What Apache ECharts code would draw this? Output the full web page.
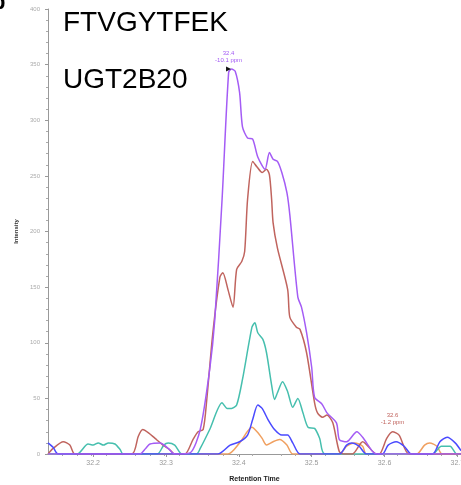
<!DOCTYPE html>
<html>
<head>
<meta charset="utf-8">
<script src="https://cdn.jsdelivr.net/npm/echarts@6/dist/echarts.min.js"></script>
<style>
  html, body { margin: 0; padding: 0; background: #fff; }
  #chart { width: 461px; height: 485px; }
</style>
</head>
<body>
<div id="chart"></div>
<script>
// chromatogram traces, [retention time, intensity]
const purple = [[32.138,0],[32.264,0],[32.272,5],[32.278,9],[32.292,10],[32.303,5],[32.312,0],[32.333,1],
  [32.347,22],[32.360,76],[32.367,121],[32.377,229],[32.386,343],[32.390,346],[32.395,344],[32.401,325],
  [32.405,294],[32.412,284],[32.419,283],[32.426,267],[32.436,256],[32.442,271],[32.447,265],[32.453,263],
  [32.459,253],[32.466,235],[32.470,215],[32.481,141],[32.486,132],[32.493,109],[32.500,78],[32.504,51],
  [32.514,45],[32.521,37],[32.534,28],[32.538,13],[32.548,11],[32.562,20],[32.570,15],[32.584,2],[32.590,0],[32.705,0]];
const brown = [[32.138,0],[32.145,5],[32.159,11],[32.168,8],[32.175,0],[32.253,0],[32.262,16],[32.268,22],
  [32.276,19],[32.285,14],[32.296,8],[32.305,4],[32.312,0],[32.326,0],[32.337,13],[32.344,20],[32.351,22],
  [32.356,49],[32.364,107],[32.374,159],[32.378,163],[32.385,148],[32.392,132],[32.397,166],[32.404,173],
  [32.408,182],[32.412,229],[32.419,263],[32.425,258],[32.432,253],[32.438,256],[32.442,251],[32.445,229],
  [32.447,208],[32.453,185],[32.467,148],[32.470,123],[32.479,114],[32.484,112],[32.493,91],[32.504,46],
  [32.508,37],[32.515,33],[32.521,35],[32.529,28],[32.538,2],[32.545,0],[32.556,0],[32.570,11],[32.589,0],
  [32.593,0],[32.603,14],[32.611,20],[32.620,17],[32.634,0],[32.705,0]];
const teal = [[32.138,0],[32.178,0],[32.193,9],[32.200,8],[32.207,10],[32.214,8],[32.221,10],[32.230,9],
  [32.237,4],[32.241,0],[32.288,0],[32.297,8],[32.303,10],[32.312,8],[32.322,0],[32.342,0],[32.347,5],
  [32.360,22],[32.377,46],[32.384,41],[32.390,41],[32.397,44],[32.405,67],[32.418,114],[32.422,118],
  [32.426,109],[32.433,103],[32.438,91],[32.445,62],[32.449,49],[32.453,55],[32.460,65],[32.467,56],
  [32.474,42],[32.481,50],[32.488,37],[32.495,24],[32.504,23],[32.511,14],[32.518,0],[32.666,0],
  [32.678,7],[32.690,7],[32.699,0],[32.705,0]];
const blue = [[32.138,10],[32.145,6],[32.152,0],[32.371,0],[32.388,8],[32.401,11],[32.412,17],[32.419,31],
  [32.426,44],[32.432,41],[32.440,31],[32.449,22],[32.459,17],[32.467,17],[32.474,10],[32.484,0],
  [32.538,0],[32.548,8],[32.555,10],[32.565,7],[32.575,0],[32.597,0],[32.605,8],[32.616,11],[32.627,7],
  [32.637,0],[32.666,0],[32.676,11],[32.686,15],[32.697,10],[32.705,3]];
const orange = [[32.138,0],[32.385,0],[32.401,10],[32.418,24],[32.425,20],[32.432,14],[32.438,8],
  [32.447,11],[32.456,13],[32.466,8],[32.474,0],[32.538,0],[32.548,7],[32.559,10],[32.570,7],[32.575,0],
  [32.644,0],[32.655,8],[32.662,10],[32.672,7],[32.679,0],[32.705,0]];

const xTicks = [32.2, 32.3, 32.4, 32.5, 32.6, 32.7];
const peakMain = [32.390, 346];
const peakSecond = [32.611, 20];

const chart = echarts.init(document.getElementById('chart'));

function line(data, color, extra) {
  return Object.assign({
    type: 'line',
    data: data,
    showSymbol: false,
    smooth: 0.25,
    lineStyle: { color: color, width: 1.5 },
    itemStyle: { color: color },
    animation: false
  }, extra || {});
}

chart.setOption({
  animation: false,
  grid: { left: 48, right: 0, top: 9, bottom: 31, outerBoundsMode: 'none', containLabel: false },
  graphic: [
    // panel letter, mostly cut off by the crop
    { type: 'text', x: -8, y: -8, style: { text: 'b', font: 'bold 22px "Liberation Sans"', fill: '#000' } },
    { type: 'text', x: 63, y: 9, style: { text: 'FTVGYTFEK', font: '28px "Liberation Sans"', fill: '#000' } },
    { type: 'text', x: 63, y: 66, style: { text: 'UGT2B20', font: '28px "Liberation Sans"', fill: '#000' } }
  ],
  xAxis: {
    type: 'value',
    min: 32.138,
    max: 32.705,
    interval: 0.1,
    name: 'Retention Time',
    nameLocation: 'middle',
    nameGap: 22,
    nameTextStyle: { fontSize: 7, fontWeight: 'bold', color: '#222', fontFamily: 'Liberation Sans' },
    axisLine: { onZero: false, lineStyle: { color: '#999' } },
    axisTick: { length: 3, lineStyle: { color: '#999' }, customValues: xTicks },
    minorTick: { show: true, splitNumber: 5, length: 2, lineStyle: { color: '#aaa' } },
    axisLabel: {
      fontSize: 7, color: '#999', margin: 6, fontFamily: 'Liberation Sans',
      customValues: xTicks,
      formatter: v => v.toFixed(1)
    },
    splitLine: { show: false }
  },
  yAxis: {
    type: 'value',
    min: 0,
    max: 400,
    interval: 50,
    name: 'Intensity',
    nameLocation: 'middle',
    nameGap: 29,
    nameTextStyle: { fontSize: 6, fontWeight: 'bold', color: '#333', fontFamily: 'Liberation Sans' },
    axisLine: { show: true, lineStyle: { color: '#999' } },
    axisTick: { show: true, length: 3, lineStyle: { color: '#999' } },
    minorTick: { show: true, splitNumber: 5, length: 2, lineStyle: { color: '#aaa' } },
    axisLabel: { fontSize: 6, color: '#aaa', margin: 8, fontFamily: 'Liberation Sans' },
    splitLine: { show: false }
  },
  series: [
    line(orange, '#f0a060'),
    line(teal, '#46bfae'),
    line(brown, '#c0645e', {
      markPoint: {
        symbol: 'circle', symbolSize: 0,
        data: [{ coord: peakSecond }],
        label: {
          show: true, position: 'top', distance: 6, formatter: '32.6\n-1.2 ppm',
          fontSize: 6, lineHeight: 7, color: '#c0645e', fontFamily: 'Liberation Sans'
        }
      }
    }),
    line(blue, '#4a4aff'),
    line(purple, '#a45cf5', {
      markPoint: {
        data: [
          {
            coord: peakMain, symbol: 'triangle', symbolSize: [5, 5], symbolRotate: -90,
            symbolOffset: [-3, 0], itemStyle: { color: '#111' },
            label: {
              show: true, position: 'top', distance: 3, formatter: '32.4\n-10.1 ppm',
              fontSize: 6, lineHeight: 7, color: '#a45cf5', fontFamily: 'Liberation Sans'
            }
          }
        ]
      }
    })
  ]
});
</script>
</body>
</html>
